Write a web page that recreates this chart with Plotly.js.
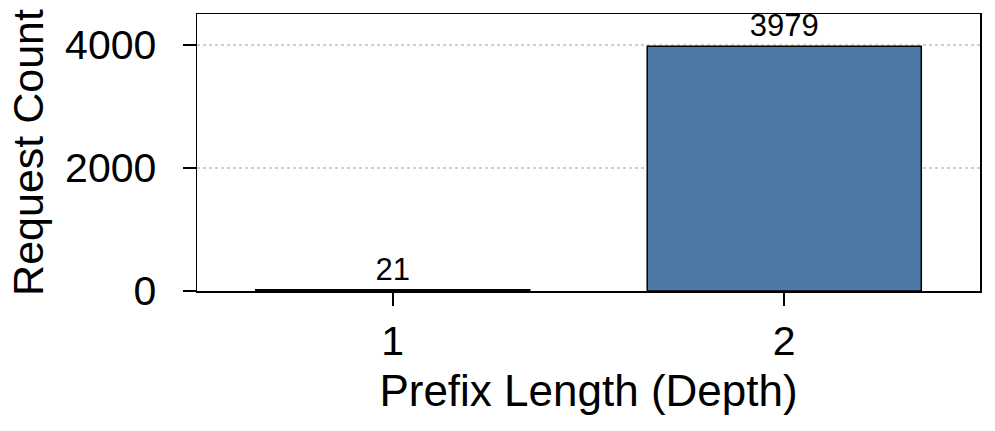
<!DOCTYPE html>
<html lang="en">
<head>
    <meta charset="UTF-8">
    <title>Request Count by Prefix Length</title>
    <script src="https://cdn.plot.ly/plotly-3.0.1.min.js"></script>
    <style>
        html, body { margin: 0; padding: 0; background: white; }
        #chart { width: 995px; height: 431px; }
    </style>
</head>
<body>
    <div id="chart"></div>
    <script>
        // prefix depth categories and how many requests fell in each
        const depths = ['1', '2'];
        const requestCounts = [21, 3979];

        const font = 'Liberation Sans, Arial, Helvetica, sans-serif';

        const trace = {
            type: 'bar',
            x: depths,
            y: requestCounts,
            text: requestCounts.map(String),
            textposition: 'outside',
            textfont: { family: font, size: 31, color: '#000' },
            cliponaxis: false,
            marker: {
                color: '#4e79a7',
                line: { color: '#000', width: 1.5 }
            },
            width: 0.7,
            hoverinfo: 'x+y'
        };

        const layout = {
            width: 995,
            height: 431,
            margin: { l: 197, r: 15, t: 14, b: 140 },
            paper_bgcolor: 'white',
            plot_bgcolor: 'white',
            font: { family: font, size: 41, color: '#000' },
            showlegend: false,
            xaxis: {
                type: 'category',
                range: [-0.5, 1.5],
                showline: true,
                linecolor: '#000',
                linewidth: 1.5,
                mirror: true,
                ticks: 'outside',
                ticklen: 13,
                tickwidth: 2,
                tickcolor: '#000',
                ticklabelstandoff: 0,
                showgrid: false,
                zeroline: false,
                title: { text: 'Prefix Length (Depth)', standoff: 12, font: { size: 44 } }
            },
            yaxis: {
                range: [0, 4504],
                tickvals: [0, 2000, 4000],
                showline: true,
                linecolor: '#000',
                linewidth: 1.5,
                mirror: true,
                ticks: 'outside',
                ticklen: 13,
                tickwidth: 2,
                tickcolor: '#000',
                ticklabelstandoff: 18,
                showgrid: true,
                gridcolor: '#d0d0d0',
                griddash: 'dot',
                gridwidth: 1.2,
                zeroline: false,
                title: { text: 'Request Count', standoff: 8, font: { size: 43 } }
            }
        };

        Plotly.newPlot('chart', [trace], layout, { displayModeBar: false, staticPlot: true });
    </script>
</body>
</html>
